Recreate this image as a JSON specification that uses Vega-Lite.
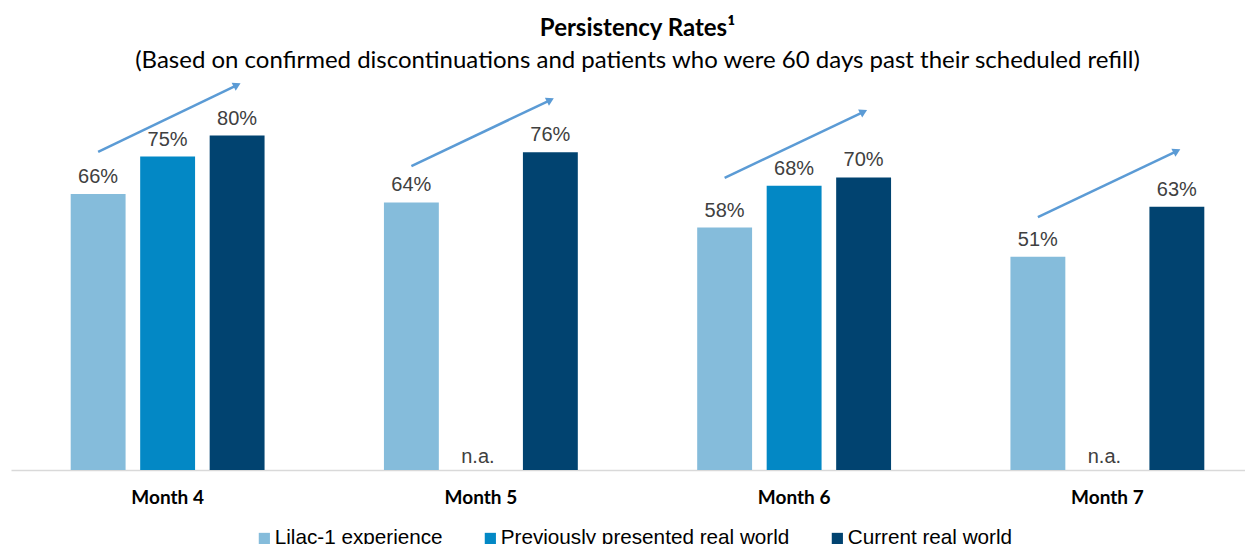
{
  "$schema": "https://vega.github.io/schema/vega-lite/v6.json",
  "autosize": {"type": "none"},
  "padding": {"left": 11, "top": 135.6, "right": 0, "bottom": 74},
  "width": 1234,
  "height": 334.4,
  "background": "white",
  "config": {"view": {"stroke": null}},
  "title": {
    "text": "Persistency Rates¹",
    "subtitle": "(Based on confirmed discontinuations and patients who were 60 days past their scheduled refill)",
    "font": "Lato",
    "fontSize": 24,
    "fontWeight": "bold",
    "color": "#000000",
    "subtitleFont": "Lato",
    "subtitleFontSize": 24,
    "subtitleColor": "#000000",
    "subtitlePadding": 8,
    "anchor": "middle",
    "frame": "group",
    "dx": 9.5,
    "offset": 7
  },
  "datasets": {
    "bars": [
      {"month": "Month 4", "series": "Lilac-1 experience", "value": 0.66},
      {"month": "Month 4", "series": "Previously presented real world", "value": 0.75},
      {"month": "Month 4", "series": "Current real world", "value": 0.80},
      {"month": "Month 5", "series": "Lilac-1 experience", "value": 0.64},
      {"month": "Month 5", "series": "Previously presented real world", "value": null},
      {"month": "Month 5", "series": "Current real world", "value": 0.76},
      {"month": "Month 6", "series": "Lilac-1 experience", "value": 0.58},
      {"month": "Month 6", "series": "Previously presented real world", "value": 0.68},
      {"month": "Month 6", "series": "Current real world", "value": 0.70},
      {"month": "Month 7", "series": "Lilac-1 experience", "value": 0.51},
      {"month": "Month 7", "series": "Previously presented real world", "value": null},
      {"month": "Month 7", "series": "Current real world", "value": 0.63}
    ],
    "arrows": [
      {"month": "Month 4", "series": "Lilac-1 experience", "ay": 0.761},
      {"month": "Month 4", "series": "Current real world", "ay": 0.921},
      {"month": "Month 5", "series": "Lilac-1 experience", "ay": 0.727},
      {"month": "Month 5", "series": "Current real world", "ay": 0.885},
      {"month": "Month 6", "series": "Lilac-1 experience", "ay": 0.699},
      {"month": "Month 6", "series": "Current real world", "ay": 0.857},
      {"month": "Month 7", "series": "Lilac-1 experience", "ay": 0.605},
      {"month": "Month 7", "series": "Current real world", "ay": 0.763}
    ]
  },
  "encoding": {
    "x": {
      "field": "month",
      "type": "nominal",
      "sort": ["Month 4", "Month 5", "Month 6", "Month 7"],
      "scale": {"range": [0, 1253], "paddingInner": 0, "paddingOuter": 0},
      "axis": {
        "title": null,
        "labelAngle": 0,
        "labelFont": "Lato",
        "labelFontWeight": "bold",
        "labelFontSize": 19,
        "labelColor": "#000000",
        "labelPadding": 18,
        "ticks": false,
        "domainColor": "#d9d9d9",
        "domainWidth": 1.5
      }
    },
    "xOffset": {
      "field": "series",
      "type": "nominal",
      "sort": ["Lilac-1 experience", "Previously presented real world", "Current real world"],
      "scale": {
        "domain": ["Lilac-1 experience", "Previously presented real world", "Current real world"],
        "paddingInner": 0.21,
        "paddingOuter": 0.859
      }
    }
  },
  "layer": [
    {
      "data": {"name": "bars"},
      "mark": {"type": "bar"},
      "encoding": {
        "y": {
          "field": "value",
          "type": "quantitative",
          "scale": {"domain": [0, 0.8], "nice": false, "zero": true},
          "axis": null
        },
        "color": {
          "field": "series",
          "type": "nominal",
          "scale": {
            "domain": ["Lilac-1 experience", "Previously presented real world", "Current real world"],
            "range": ["#85BCDB", "#0388C5", "#014370"]
          },
          "legend": {
            "title": null,
            "orient": "none",
            "legendX": 243,
            "legendY": 392,
            "direction": "horizontal",
            "symbolType": "square",
            "symbolSize": 125,
            "symbolStrokeWidth": 0,
            "labelFont": "Liberation Sans",
            "labelFontSize": 20.7,
            "labelColor": "#000000",
            "labelLimit": 600,
            "labelOffset": 0,
            "columnPadding": 37,
            "padding": 0
          }
        }
      }
    },
    {
      "data": {"name": "bars"},
      "transform": [{"filter": "datum.value != null"}],
      "mark": {"type": "text", "baseline": "alphabetic", "dy": -11, "font": "Liberation Sans", "fontSize": 20, "color": "#404040"},
      "encoding": {
        "y": {"field": "value", "type": "quantitative"},
        "text": {"field": "value", "type": "quantitative", "format": ".0%"}
      }
    },
    {
      "data": {"name": "bars"},
      "transform": [{"filter": "datum.value == null"}],
      "mark": {"type": "text", "baseline": "alphabetic", "dy": -7, "dx": -3, "font": "Liberation Sans", "fontSize": 20, "color": "#404040"},
      "encoding": {
        "y": {"datum": 0, "type": "quantitative"},
        "text": {"value": "n.a."}
      }
    },
    {
      "data": {"name": "arrows"},
      "mark": {"type": "line", "color": "#5B9BD5", "strokeWidth": 2.5},
      "encoding": {
        "y": {"field": "ay", "type": "quantitative"},
        "detail": {"field": "month"}
      }
    },
    {
      "data": {"name": "arrows"},
      "transform": [{"filter": "datum.series == 'Current real world'"}],
      "mark": {"type": "point", "shape": "triangle-up", "angle": 63, "filled": true, "opacity": 1, "size": 80, "color": "#5B9BD5"},
      "encoding": {
        "y": {"field": "ay", "type": "quantitative"}
      }
    }
  ]
}
